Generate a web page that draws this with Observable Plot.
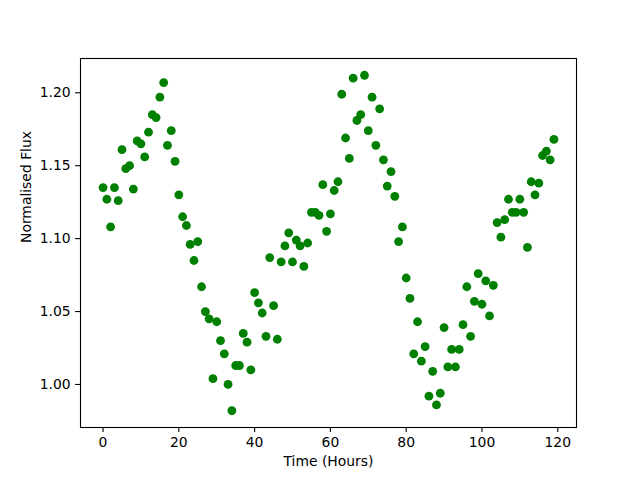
<!DOCTYPE html>
<html>
<head>
<meta charset="utf-8">
<script src="https://cdn.jsdelivr.net/npm/d3@7"></script>
<script src="https://cdn.jsdelivr.net/npm/@observablehq/plot@0.6"></script>
<style>
  html, body { margin: 0; padding: 0; background: white; }
</style>
</head>
<body>
<div id="chart"></div>
<script>
const hours = [
  0,1,2,3,4,5,6,7,8,9,10,11,12,13,14,15,16,17,18,19,
  20,21,22,23,24,25,26,27,28,29,30,31,32,33,34,35,36,37,38,39,
  40,41,42,43,44,45,46,47,48,49,50,51,52,53,54,55,56,57,58,59,
  60,61,62,63,64,65,66,67,68,69,70,71,72,73,74,75,76,77,78,79,
  80,81,82,83,84,85,86,87,88,89,90,91,92,93,94,95,96,97,98,99,
  100,101,102,103,104,105,106,107,108,109,110,111,112,113,114,115,116,117,118,119
];
const flux = [
  1.135,1.127,1.108,1.135,1.126,1.161,1.148,1.150,1.134,1.167,
  1.165,1.156,1.173,1.185,1.183,1.197,1.207,1.164,1.174,1.153,
  1.130,1.115,1.109,1.096,1.085,1.098,1.067,1.050,1.045,1.004,
  1.043,1.030,1.021,1.000,0.982,1.013,1.013,1.035,1.029,1.010,
  1.063,1.056,1.049,1.033,1.087,1.054,1.031,1.084,1.095,1.104,
  1.084,1.099,1.095,1.081,1.097,1.118,1.118,1.116,1.137,1.105,
  1.117,1.133,1.139,1.199,1.169,1.155,1.210,1.181,1.185,1.212,
  1.174,1.197,1.164,1.189,1.154,1.136,1.146,1.129,1.098,1.108,
  1.073,1.059,1.021,1.043,1.016,1.026,0.992,1.009,0.986,0.994,
  1.039,1.012,1.024,1.012,1.024,1.041,1.067,1.033,1.057,1.076,
  1.055,1.071,1.047,1.068,1.111,1.101,1.113,1.127,1.118,1.118,
  1.127,1.118,1.094,1.139,1.130,1.138,1.157,1.160,1.154,1.168
];
const xTicks = [0, 20, 40, 60, 80, 100, 120];
const yTicks = [1.00, 1.05, 1.10, 1.15, 1.20];

const data = hours.map((h, i) => ({hour: h, flux: flux[i]}));

const chart = Plot.plot({
  width: 640,
  height: 480,
  marginLeft: 80,
  marginRight: 64,
  marginTop: 58,
  marginBottom: 53,
  style: {fontFamily: "DejaVu Sans", fontSize: "13.9px", color: "black", background: "white"},
  x: {domain: [-5.95, 124.95]},
  y: {domain: [0.9705, 1.2235]},
  marks: [
    Plot.dot(data, {x: "hour", y: "flux", r: 4.4, fill: "#008000", stroke: "none"}),
    Plot.frame({stroke: "black", strokeWidth: 1.1}),
    Plot.axisX({ticks: xTicks, tickSize: 4.9, tickPadding: 4.9, tickFormat: d => String(d), label: null, strokeWidth: 1.1}),
    Plot.axisY({ticks: yTicks, tickSize: 4.9, tickPadding: 4.9, tickFormat: d3.format(".2f"), label: null, strokeWidth: 1.1}),
    Plot.text(["Time (Hours)"], {frameAnchor: "bottom", dy: 38, fill: "black", fontSize: 13.9}),
    Plot.text(["Normalised Flux"], {frameAnchor: "left", dx: -54, rotate: -90, fill: "black", fontSize: 13.9})
  ]
});
document.getElementById("chart").appendChild(chart);
</script>
</body>
</html>
